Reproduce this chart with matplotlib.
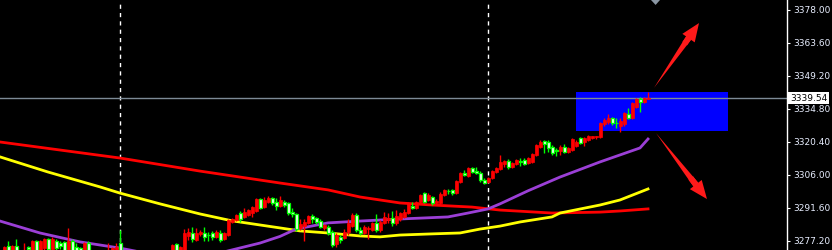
import matplotlib
matplotlib.use("Agg")
import matplotlib.pyplot as plt
import matplotlib.transforms as mtransforms
from matplotlib.patches import Rectangle, Polygon, FancyArrowPatch

# OHLC of each candle, candles 1..162
opens = [3271.1, 3275.0, 3271.5, 3275.0, 3272.5, 3270.0, 3274.6, 3271.5, 3277.2, 3272.5,
         3274.0, 3278.1, 3273.5, 3277.2, 3276.3, 3276.8, 3272.0, 3277.2, 3274.6, 3274.0,
         3272.0, 3276.3, 3272.5, 3270.0, 3272.0, 3269.5, 3270.5, 3271.0, 3271.5, 3276.3,
         3271.0, 3267.5, 3265.0, 3267.0, 3263.5, 3262.0, 3264.5, 3266.0, 3264.0, 3267.5,
         3269.5, 3268.0, 3270.0, 3276.0, 3271.0, 3271.5, 3279.4, 3280.7, 3277.6, 3280.3,
         3280.7, 3280.0, 3280.7, 3279.0, 3280.7, 3278.1, 3279.8, 3285.5, 3286.4, 3289.4,
         3287.7, 3288.5, 3289.4, 3290.3, 3295.5, 3292.0, 3294.2, 3296.0, 3294.2, 3292.5,
         3294.2, 3293.8, 3289.8, 3289.0, 3282.9, 3283.7, 3285.1, 3288.1, 3287.2, 3285.9,
         3282.9, 3283.3, 3281.2, 3276.0, 3278.9, 3278.5, 3281.2, 3283.7, 3288.5, 3282.0,
         3280.7, 3282.4, 3282.0, 3285.1, 3282.0, 3285.1, 3286.4, 3287.2, 3285.1, 3286.8,
         3287.7, 3289.4, 3292.5, 3291.6, 3294.2, 3298.1, 3295.1, 3296.4, 3293.8, 3293.8,
         3297.3, 3299.2, 3299.5, 3298.1, 3302.9, 3306.9, 3305.6, 3309.1, 3307.7, 3306.9,
         3303.8, 3303.0, 3304.7, 3307.3, 3308.6, 3310.8, 3312.1, 3309.5, 3310.8, 3311.9,
         3312.5, 3311.2, 3311.7, 3314.7, 3318.2, 3320.8, 3320.4, 3318.2, 3316.9, 3316.5,
         3318.2, 3316.1, 3316.9, 3318.7, 3322.2, 3320.4, 3321.3, 3322.2, 3322.6, 3322.6,
         3328.2, 3329.1, 3330.9, 3328.9, 3327.4, 3328.2, 3332.6, 3330.9, 3335.7, 3339.2,
         3337.8, 3339.2]
highs = [3275.0, 3277.2, 3275.5, 3278.1, 3273.0, 3276.3, 3275.0, 3277.6, 3277.6, 3277.6,
         3278.5, 3278.5, 3278.8, 3278.1, 3277.2, 3277.2, 3282.9, 3278.1, 3276.3, 3274.5,
         3276.8, 3277.0, 3273.0, 3272.8, 3272.5, 3273.3, 3276.3, 3274.5, 3276.3, 3282.0,
         3271.5, 3268.5, 3268.0, 3267.5, 3264.5, 3265.5, 3267.0, 3266.5, 3268.0, 3270.5,
         3270.0, 3271.0, 3276.0, 3276.5, 3275.0, 3282.4, 3282.9, 3283.3, 3282.9, 3281.8,
         3283.3, 3281.2, 3281.6, 3281.8, 3282.0, 3281.2, 3286.8, 3287.3, 3289.0, 3290.3,
         3291.6, 3291.2, 3292.5, 3296.0, 3296.0, 3296.4, 3296.8, 3296.4, 3296.0, 3296.8,
         3295.1, 3294.2, 3291.6, 3289.4, 3286.8, 3286.8, 3288.5, 3289.0, 3287.7, 3286.8,
         3284.6, 3284.2, 3282.0, 3280.7, 3279.8, 3282.4, 3286.8, 3289.4, 3289.4, 3283.3,
         3284.2, 3283.7, 3285.5, 3289.0, 3286.4, 3289.8, 3289.4, 3290.3, 3290.7, 3290.0,
         3291.2, 3294.2, 3294.2, 3294.6, 3297.7, 3298.6, 3298.1, 3296.8, 3295.5, 3298.6,
         3300.0, 3300.0, 3300.0, 3303.8, 3307.3, 3308.2, 3309.5, 3309.5, 3309.5, 3307.7,
         3304.7, 3305.1, 3308.2, 3309.5, 3314.7, 3312.5, 3313.0, 3311.7, 3313.0, 3313.4,
         3313.4, 3313.8, 3315.6, 3319.5, 3321.3, 3321.3, 3321.3, 3319.1, 3317.8, 3319.1,
         3319.5, 3318.2, 3322.2, 3321.3, 3322.6, 3322.6, 3323.5, 3323.0, 3323.0, 3329.1,
         3330.9, 3332.6, 3331.3, 3330.9, 3330.9, 3333.5, 3335.2, 3337.8, 3339.6, 3340.0,
         3340.0, 3342.2]
lows = [3269.0, 3270.5, 3270.0, 3270.0, 3269.5, 3269.0, 3272.5, 3270.5, 3271.5, 3271.0,
        3273.0, 3272.5, 3272.0, 3272.5, 3273.5, 3271.5, 3271.0, 3271.5, 3272.0, 3271.5,
        3271.0, 3271.5, 3269.5, 3269.0, 3268.5, 3269.0, 3270.0, 3270.0, 3271.0, 3269.5,
        3266.5, 3264.0, 3264.0, 3262.5, 3261.0, 3261.5, 3263.5, 3263.0, 3263.5, 3266.5,
        3267.0, 3267.0, 3269.5, 3271.0, 3270.5, 3271.0, 3277.6, 3276.8, 3277.0, 3279.5,
        3277.2, 3277.2, 3277.6, 3278.5, 3276.8, 3277.6, 3279.4, 3285.0, 3285.9, 3285.5,
        3287.2, 3288.0, 3287.7, 3289.8, 3291.2, 3291.6, 3293.8, 3292.9, 3290.7, 3292.0,
        3292.0, 3288.5, 3287.7, 3281.6, 3282.0, 3277.2, 3284.6, 3285.1, 3284.6, 3282.9,
        3282.0, 3279.8, 3274.6, 3274.6, 3276.3, 3278.1, 3279.8, 3283.3, 3281.2, 3279.8,
        3280.3, 3278.1, 3281.6, 3281.2, 3281.2, 3284.6, 3285.1, 3283.7, 3284.2, 3285.9,
        3287.2, 3289.0, 3291.2, 3291.2, 3293.8, 3293.8, 3294.6, 3292.9, 3292.9, 3292.9,
        3296.8, 3297.7, 3297.3, 3297.7, 3302.5, 3305.6, 3305.1, 3306.9, 3306.4, 3302.9,
        3302.0, 3302.5, 3304.2, 3306.9, 3308.2, 3309.5, 3308.6, 3309.1, 3310.4, 3310.0,
        3310.4, 3310.8, 3311.2, 3314.3, 3317.8, 3315.6, 3316.1, 3314.7, 3314.3, 3314.7,
        3315.6, 3315.6, 3316.5, 3318.2, 3319.5, 3318.7, 3320.8, 3321.7, 3321.7, 3322.2,
        3327.4, 3328.2, 3327.8, 3326.5, 3324.8, 3327.4, 3330.5, 3330.5, 3335.2, 3333.5,
        3337.4, 3339.0]
closes = [3274.6, 3272.4, 3275.0, 3272.0, 3271.0, 3273.0, 3273.5, 3277.2, 3273.0, 3277.2,
          3278.1, 3273.5, 3278.1, 3274.0, 3275.0, 3272.5, 3277.2, 3273.0, 3273.0, 3272.5,
          3276.3, 3272.5, 3270.5, 3272.0, 3269.5, 3273.0, 3272.8, 3274.2, 3274.6, 3271.0,
          3267.5, 3265.0, 3267.0, 3263.5, 3262.0, 3264.5, 3266.0, 3264.0, 3267.5, 3269.5,
          3268.0, 3270.5, 3275.5, 3272.0, 3274.6, 3280.7, 3281.0, 3278.1, 3280.7, 3281.2,
          3279.0, 3279.6, 3279.0, 3281.2, 3277.6, 3280.7, 3286.4, 3286.8, 3288.5, 3286.8,
          3289.8, 3290.7, 3292.0, 3295.5, 3291.6, 3295.1, 3296.0, 3293.8, 3292.5, 3295.1,
          3292.9, 3289.4, 3289.0, 3282.4, 3284.6, 3285.5, 3288.1, 3286.8, 3285.5, 3283.3,
          3284.2, 3280.7, 3275.5, 3279.8, 3277.6, 3281.2, 3285.1, 3288.5, 3282.0, 3280.7,
          3283.3, 3282.9, 3285.1, 3282.0, 3285.5, 3287.7, 3287.2, 3285.1, 3288.1, 3289.4,
          3289.8, 3293.8, 3291.6, 3294.2, 3297.3, 3294.2, 3297.3, 3293.8, 3294.6, 3297.7,
          3299.5, 3298.8, 3298.1, 3303.4, 3306.9, 3306.0, 3309.1, 3307.3, 3306.9, 3303.8,
          3302.5, 3304.7, 3307.7, 3309.1, 3311.7, 3312.1, 3309.5, 3311.2, 3312.5, 3311.5,
          3310.8, 3313.4, 3315.2, 3319.1, 3320.4, 3319.5, 3317.8, 3315.6, 3316.5, 3318.2,
          3316.1, 3317.8, 3321.7, 3320.4, 3320.0, 3322.2, 3323.0, 3323.0, 3323.0, 3328.7,
          3330.0, 3330.9, 3328.7, 3328.5, 3329.6, 3333.1, 3330.9, 3337.4, 3339.2, 3337.8,
          3339.6, 3339.54]

# moving averages, read at a few candle positions
ma_red_idx = [0, 30, 50, 70, 82, 90, 100, 108, 118, 125, 138, 150, 155, 162]
ma_red = [3320.4, 3313.4, 3307.7, 3302.5, 3299.5, 3296.4, 3293.8, 3292.9,
          3292.0, 3290.7, 3289.4, 3289.8, 3290.3, 3291.2]
ma_yel_idx = [0, 12, 25, 30, 40, 50, 58, 70, 75, 82, 90, 95, 100, 108, 115, 120, 125,
              130, 138, 140, 150, 155, 162]
ma_yel = [3313.9, 3307.3, 3300.8, 3298.1, 3293.4, 3289.0, 3286.0, 3282.9, 3281.6,
          3280.7, 3279.4, 3279.0, 3279.8, 3280.3, 3280.7, 3282.4, 3283.7, 3285.5,
          3287.7, 3289.4, 3292.9, 3295.1, 3299.9]
ma_pur_idx = [0, 10, 20, 30, 40, 50, 58, 65, 70, 74, 82, 90, 100, 112, 117, 122, 125,
              132, 140, 150, 160, 162]
ma_pur = [3285.9, 3280.7, 3276.8, 3274.1, 3270.7, 3269.8, 3273.3, 3276.3, 3279.2,
          3282.4, 3285.1, 3285.9, 3286.8, 3287.7, 3289.4, 3291.2, 3293.4, 3299.1,
          3305.1, 3311.7, 3317.8, 3321.7]

yticks = [3277.20, 3291.60, 3306.00, 3320.40, 3334.80, 3349.20, 3363.60, 3378.00]
last_price = 3339.54
vlines_at = [30, 122]
box = (144, 182, 3325.2, 3342.2)
arrow_up = ((163.5, 3344.0), (174.75, 3372.3))
arrow_down = ((164.0, 3324.3), (176.75, 3295.5))

fig = plt.figure(figsize=(8.32, 2.5), dpi=100, facecolor="black")
ax = fig.add_axes([0, 0, 787 / 832, 1])
ax.set_facecolor("black")
ax.set_xlim(0, 196.75)
ax.set_ylim(3273.27, 3382.36)

# blue zone
ax.add_patch(Rectangle((box[0], box[2]), box[1] - box[0], box[3] - box[2],
                       facecolor="#0000ff", edgecolor="none", zorder=1))

for x in vlines_at:
    ax.axvline(x, color="white", lw=1, ls=(0, (3, 3)), zorder=2)

ax.axhline(last_price, color="#7d8a96", lw=1, zorder=2)

ax.plot(ma_red_idx, ma_red, color="#ff0000", lw=2, zorder=3)
ax.plot(ma_yel_idx, ma_yel, color="#ffff00", lw=2, zorder=3)
ax.plot(ma_pur_idx, ma_pur, color="#9b3fd6", lw=2, zorder=3)

# candles
for i in range(len(opens)):
    k = i + 1
    o, h, l, c = opens[i], highs[i], lows[i], closes[i]
    up = c >= o
    col = "#ff0000" if up else "#00ff00"
    ax.vlines(k, l, h, color=col, lw=1, zorder=4)
    bottom = min(o, c)
    height = max(abs(c - o), 0.4)
    if up:
        ax.bar(k, height, 0.75, bottom=bottom, color=col, edgecolor=col, lw=0.5, zorder=5)
    else:
        ax.bar(k, height, 0.75, bottom=bottom, color="#f4fff4", edgecolor=col, lw=0.9, zorder=5)


def draw_arrow(start, tip):
    # tapered tail (pointed at the start) plus a solid head
    (x0, y0), (x1, y1) = start, tip
    mid = (x0 + 0.85 * (x1 - x0), y0 + 0.85 * (y1 - y0))
    base = (x0 + 0.68 * (x1 - x0), y0 + 0.68 * (y1 - y0))
    ax.add_patch(FancyArrowPatch(mid, start, arrowstyle="wedge,tail_width=0.4,shrink_factor=0.5",
                                 mutation_scale=12, color="#ff1a1a", lw=0,
                                 shrinkA=0, shrinkB=0, zorder=6))
    ax.add_patch(FancyArrowPatch(base, tip,
                                 arrowstyle="simple,head_width=0.9,head_length=1.1,tail_width=0.35",
                                 mutation_scale=12, color="#ff1a1a", lw=0,
                                 shrinkA=0, shrinkB=0, zorder=6))


draw_arrow(*arrow_up)
draw_arrow(*arrow_down)

# small marker at top
ax.add_patch(Polygon([(162.75, 3382.36), (165.0, 3382.36), (163.9, 3380.2)],
                     closed=True, facecolor="#8a96a3", edgecolor="none", zorder=6))

for s in ["top", "left", "bottom"]:
    ax.spines[s].set_visible(False)
ax.spines["right"].set_color("white")
ax.spines["right"].set_linewidth(1)
ax.set_xticks([])
ax.yaxis.tick_right()
ax.set_yticks(yticks)
ax.set_yticklabels(["%.2f" % v for v in yticks])
ax.tick_params(axis="y", colors="white", labelcolor="#e8eeff", labelsize=6.5,
               length=2.5, width=0.8, pad=2)

trans = mtransforms.blended_transform_factory(ax.transAxes, ax.transData)
ax.text(1.004, last_price, "%.2f" % last_price, transform=trans, fontsize=6.5,
        color="black", va="center", ha="left", zorder=10,
        bbox=dict(boxstyle="square,pad=0.2", facecolor="white", edgecolor="none"))

fig.savefig("out.png", dpi=100, facecolor="black")
